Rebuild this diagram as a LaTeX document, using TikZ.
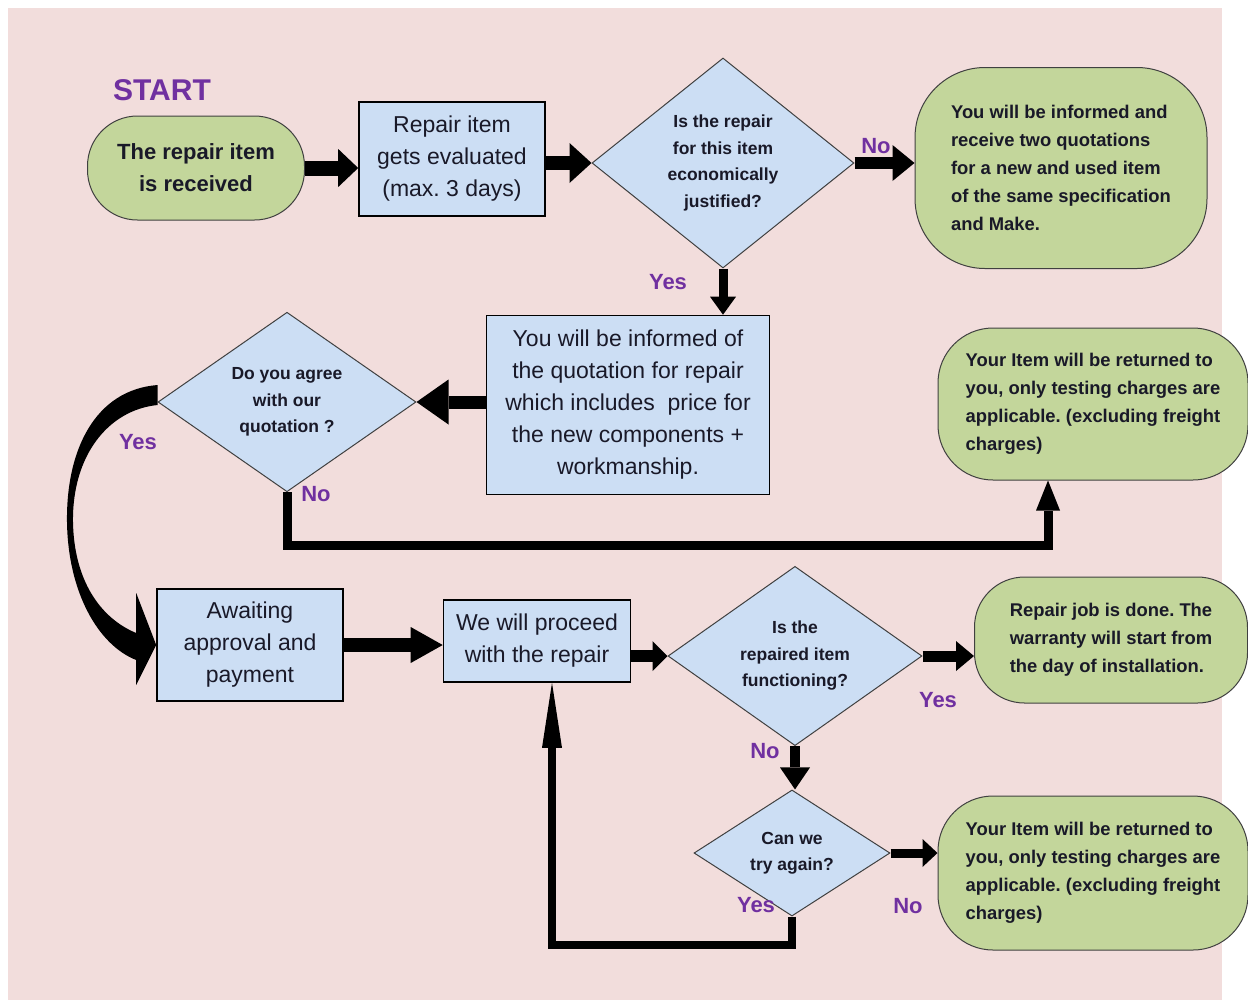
\documentclass[tikz,border=0pt]{standalone}
\usepackage{fontspec}
\setmainfont{Liberation Sans}
\usepackage{tikz}
\usetikzlibrary{shapes.geometric, arrows.meta, calc}

\definecolor{pagepink}{RGB}{242,221,220}
\definecolor{boxblue}{RGB}{204,222,244}
\definecolor{endgreen}{RGB}{195,214,155}
\definecolor{askpurple}{RGB}{112,48,160}
\definecolor{inkdark}{RGB}{25,25,40}

\newcommand{\boxsize}{\fontsize{23}{32}\selectfont}
\newcommand{\termsize}{\fontsize{18.4}{28}\selectfont\bfseries}
\newcommand{\asksize}{\fontsize{17.5}{26.5}\selectfont\bfseries}
\newcommand{\answersize}{\fontsize{22}{26}\selectfont\bfseries}

\tikzstyle{task} = [rectangle, draw=black, line width=1.6pt, fill=boxblue, text=inkdark, font=\boxsize, align=center, inner sep=0pt]
\tikzstyle{terminal} = [rectangle, draw=black!75, line width=1pt, fill=endgreen, text=inkdark, font=\termsize, align=left, inner sep=0pt]
\tikzstyle{decision} = [diamond, draw=black!75, line width=1pt, fill=boxblue, text=inkdark, font=\asksize, align=center, inner sep=0pt]
\tikzstyle{answer} = [text=askpurple, font=\answersize]
\tikzset{flow/.style n args={3}{draw=black, line width=#1, -{Triangle[length=#2, width=#3, line width=0pt]}}}

\begin{document}
\frenchspacing
\begin{tikzpicture}[x=1pt, y=-1pt]
        \useasboundingbox (0,0) rectangle (1248,1005);
        \fill[white] (0,0) rectangle (1248,1005);
        \fill[pagepink] (8,8) rectangle (1222,1000);

        \node[font=\fontsize{30}{30}\selectfont\bfseries, text=askpurple] (startLabel) at (162,90) {START};
        \node[terminal, align=center, font=\fontsize{22}{32}\selectfont\bfseries, rounded corners=50pt, minimum width=217pt, minimum height=104pt] (received) at (196,168) {The repair item\\is received};
        \node[task, minimum width=186pt, minimum height=114pt] (evaluate) at (452,159) {Repair item\\gets evaluated\\(max. 3 days)};
        \node[decision, minimum width=262pt, minimum height=210pt] (economic) at (723,163) {Is the repair\\for this item\\economically\\justified?};
        \node[terminal, rounded corners=70pt, minimum width=292pt, minimum height=201pt] (informed) at (1061,168) {You will be informed and\\receive two quotations\\for a new and used item\\of the same specification\\and Make.};
        \node[task, minimum width=283pt, minimum height=179pt] (quote) at (628,405) {You will be informed of\\the quotation for repair\\which includes\ \ price for\\the new components +\\workmanship.};
        \node[decision, minimum width=258pt, minimum height=172pt] (agree) at (287,402) {Do you agree\\with our\\quotation ?};
        \node[terminal, rounded corners=55pt, minimum width=310pt, minimum height=152pt] (returnedA) at (1093,404) {Your Item will be returned to\\you, only testing charges are\\applicable. (excluding freight\\charges)};
        \node[task, minimum width=186pt, minimum height=112pt] (await) at (250,645) {Awaiting\\approval and\\payment};
        \node[task, minimum width=187pt, minimum height=82pt] (proceed) at (537,641) {We will proceed\\with the repair};
        \node[decision, minimum width=254pt, minimum height=156pt] (repaired) at (795,656) {Is the\\repaired item\\functioning?};
        \node[terminal, rounded corners=50pt, minimum width=273pt, minimum height=126pt] (done) at (1111,640) {Repair job is done. The\\warranty will start from\\the day of installation.};
        \node[decision, minimum width=196pt, minimum height=113pt] (again) at (792,853) {Can we\\try again?};
        \node[terminal, rounded corners=55pt, minimum width=310pt, minimum height=154pt] (returnedB) at (1093,873) {Your Item will be returned to\\you, only testing charges are\\applicable. (excluding freight\\charges)};

        \coordinate (noTurn) at (1048,545);
        \coordinate (loopCorner) at (552,945);

        \draw[flow={15pt}{20pt}{38pt}] (received.east) -- (received.east -| evaluate.west);
        \draw[flow={14pt}{22pt}{40pt}] (evaluate.east |- economic.west) -- (economic.west);
        \draw[flow={12pt}{22pt}{36pt}] (economic.east) -- (economic.east -| informed.west);
        \draw[flow={9pt}{18pt}{26pt}] (economic.south) -- (economic.south |- quote.north);
        \draw[flow={13pt}{32pt}{45pt}] (quote.west |- agree.east) -- (agree.east);
        \draw[flow={9pt}{30pt}{24pt}] (agree.south) |- (noTurn) -- (noTurn |- returnedA.south);
        \fill[black] ($(agree.west)+(0,-17)$) .. controls (95,390) and (66,450) .. (67,522)
            .. controls (68,592) and (98,645) .. ($(await.west)+(-20,15)$) -- ($(await.west)+(-20,40)$)
            -- (await.west) -- ($(await.west)+(-20,-52)$) -- ($(await.west)+(-20,-12)$)
            .. controls (100,618) and (74,580) .. (73,522) .. controls (72,456) and (108,410) .. ($(agree.west)+(0,3)$) -- cycle;
        \draw[flow={14pt}{32pt}{36pt}] (await.east) -- (await.east -| proceed.west);
        \draw[flow={12pt}{15pt}{30pt}] (proceed.east |- repaired.west) -- (repaired.west);
        \draw[flow={11pt}{18pt}{30pt}] (repaired.east) -- (repaired.east -| done.west);
        \draw[flow={10pt}{22pt}{30pt}] (repaired.south) -- (repaired.south |- again.north);
        \draw[flow={9pt}{15pt}{28pt}] (again.east) -- (again.east -| returnedB.west);
        \draw[flow={8pt}{65pt}{20pt}] (again.south) |- (loopCorner) -- (loopCorner |- proceed.south);

        \node[answer] (noEconomic) at (876,146) {No};
        \node[answer] (yesEconomic) at (668,282) {Yes};
        \node[answer] (yesAgree) at (138,442) {Yes};
        \node[answer] (noAgree) at (316,494) {No};
        \node[answer] (yesRepaired) at (938,700) {Yes};
        \node[answer] (noRepaired) at (765,751) {No};
        \node[answer] (yesAgain) at (756,905) {Yes};
        \node[answer] (noAgain) at (908,906) {No};
    \end{tikzpicture}
\end{document}
